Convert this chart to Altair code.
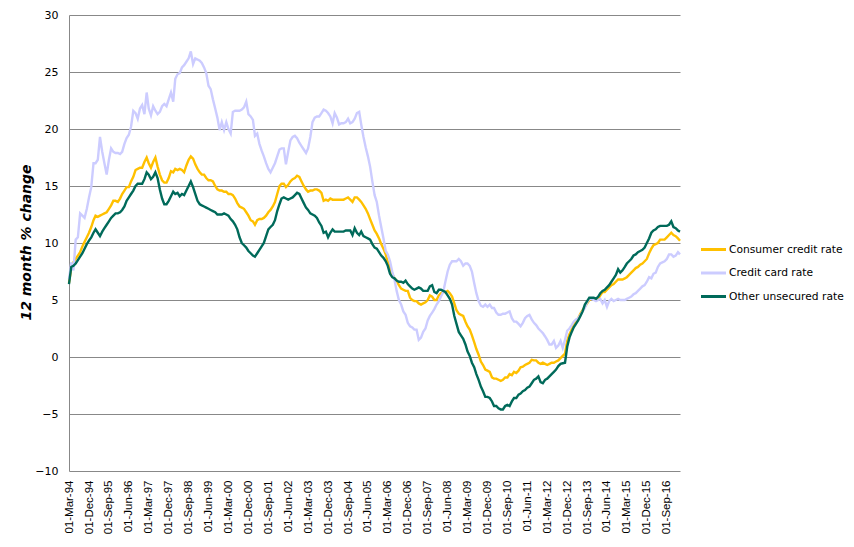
import altair as alt
import pandas as pd

# ---- data (monthly, Mar-1994 .. Mar-2017) ----
consumer_credit = [
    6.5, 7.8, 8.3, 8.6, 8.9, 9.2, 9.7, 10.1, 10.5, 10.9,
    11.4, 12.0, 12.4, 12.3, 12.4, 12.5, 12.6, 12.7, 13.0, 13.3,
    13.7, 13.7, 13.6, 13.9, 14.3, 14.6, 14.9, 14.9, 15.4, 15.8,
    16.4, 16.5, 16.6, 16.6, 17.1, 17.5, 17.0, 16.6, 17.1, 17.5,
    16.7, 16.0, 15.5, 15.3, 15.3, 15.7, 16.3, 16.2, 16.5, 16.4,
    16.5, 16.4, 16.2, 16.8, 17.3, 17.6, 17.4, 16.9, 16.5, 16.2,
    16.0, 16.0, 15.7, 15.5, 15.5, 15.4, 15.0, 14.7, 14.6, 14.6,
    14.5, 14.5, 14.3, 14.3, 14.2, 13.9, 13.5, 13.2, 13.1, 13.0,
    12.7, 12.4, 12.0, 11.9, 11.6, 12.0, 12.1, 12.1, 12.2, 12.4,
    12.7, 12.9, 13.2, 13.6, 14.3, 15.0, 15.2, 15.2, 14.9, 15.1,
    15.4, 15.6, 15.7, 15.9, 15.8, 15.4, 15.0, 14.7, 14.5, 14.6,
    14.6, 14.7, 14.7, 14.6, 14.4, 13.7, 13.8, 13.7, 13.9, 13.8,
    13.8, 13.8, 13.8, 13.8, 13.8, 13.9, 14.0, 13.8, 13.6, 14.0,
    14.0, 13.8, 13.6, 13.3, 13.0, 12.6, 12.1, 11.6, 11.1, 10.8,
    10.4, 9.9, 9.5, 9.0, 8.3, 7.8, 7.3, 6.9, 6.7, 6.3,
    6.0, 5.9, 5.8, 5.8, 5.2, 5.0, 4.9, 4.9, 4.7, 4.6,
    4.7, 4.8, 5.0, 5.4, 5.3, 5.0, 5.0, 5.4, 5.6, 5.7,
    5.7, 5.8, 5.6, 5.3, 4.7, 4.1, 3.8, 3.7, 3.6, 3.1,
    2.7, 2.4, 1.9, 1.3, 0.7, 0.2, -0.4, -0.7, -1.1, -1.2,
    -1.3, -1.8, -1.9, -1.9, -2.0, -2.1, -2.0, -1.8, -1.8, -1.5,
    -1.6, -1.3, -1.4, -1.2, -0.9, -0.85, -0.7, -0.6, -0.5, -0.25,
    -0.3, -0.3, -0.5, -0.6, -0.5, -0.6, -0.7, -0.6, -0.5, -0.5,
    -0.4, -0.3, -0.1, 0.1, 0.3, 1.4, 2.0, 2.4, 2.8, 3.1,
    3.4, 3.8, 4.1, 4.4, 4.7, 5.0, 5.1, 5.1, 5.0, 5.1,
    5.4, 5.7, 5.7, 5.9, 6.1, 6.3, 6.4, 6.6, 6.8, 6.8,
    6.8, 6.9, 7.0, 7.2, 7.4, 7.6, 7.8, 7.9, 8.1, 8.2,
    8.4, 8.6, 9.1, 9.5, 9.8, 9.9, 10.0, 10.3, 10.3, 10.3,
    10.5, 10.7, 10.9, 10.7, 10.6, 10.4, 10.2,
]

credit_card = [
    6.8, 8.3, 7.6, 10.3, 10.5, 12.6, 12.4, 12.2, 13.0, 14.0,
    14.9, 17.0, 17.0, 17.3, 19.3, 18.0, 17.0, 16.0, 17.3, 18.3,
    18.0, 17.9, 17.9, 17.8, 18.0, 18.7, 19.2, 19.5, 20.2, 21.6,
    21.4, 20.9, 21.8, 22.1, 21.3, 23.2, 21.8, 21.2, 22.0, 21.6,
    21.3, 21.5, 22.0, 22.2, 22.0, 22.6, 23.2, 22.4, 24.4, 24.8,
    24.9, 25.4, 25.6, 25.9, 26.2, 26.8, 25.7, 26.2, 26.1, 26.0,
    25.8, 25.4, 24.9, 23.8, 23.5, 22.6, 21.8, 21.0, 19.9, 20.6,
    19.9, 20.6, 20.0, 19.6, 21.5, 21.6, 21.6, 21.6, 21.7, 21.9,
    22.4, 21.3, 21.1, 20.8, 19.4, 19.6, 18.7, 18.1, 17.6, 17.0,
    16.5, 16.2, 16.6, 17.0, 17.6, 18.2, 18.3, 18.3, 16.9, 18.0,
    19.0, 19.3, 19.4, 19.2, 18.8, 18.5, 18.2, 17.9, 18.3, 19.3,
    20.6, 21.0, 21.1, 21.1, 21.4, 21.7, 21.6, 21.4, 21.1, 20.5,
    21.4, 21.0, 20.4, 20.5, 20.5, 20.6, 20.9, 20.5, 20.6, 20.9,
    21.4, 21.5, 20.4, 19.3, 18.4, 17.6, 16.7, 15.4, 14.2, 13.6,
    12.4, 11.4, 10.4, 9.3, 9.0, 8.4, 7.5, 6.8, 5.8, 5.0,
    4.6, 4.0, 3.7, 3.0, 2.7, 2.6, 2.4, 2.4, 1.5, 1.7,
    2.2, 2.5, 3.2, 3.6, 3.9, 4.2, 4.6, 4.9, 5.3, 5.7,
    6.6, 7.5, 8.1, 8.4, 8.4, 8.4, 8.6, 8.4, 8.0, 8.2,
    8.2, 8.0, 7.5, 6.5, 5.6, 4.9, 4.5, 4.4, 4.6, 4.4,
    4.6, 4.3, 4.3, 3.9, 3.7, 3.7, 3.8, 3.8, 3.9, 4.0,
    3.4, 3.1, 3.1, 2.9, 2.7, 3.0, 3.4, 3.6, 3.7, 3.3,
    3.0, 2.8, 2.5, 2.3, 2.1, 1.8, 1.5, 1.1, 1.1, 1.4,
    0.8, 1.0, 1.4, 0.8, 1.5, 2.3, 2.5, 2.8, 3.1, 3.3,
    3.4, 3.7, 4.0, 4.3, 4.8, 5.1, 5.1, 5.0, 4.9, 5.0,
    5.1, 4.7, 5.0, 4.4, 4.9, 5.1, 4.9, 5.0, 5.1, 5.0,
    5.0, 5.0, 5.1, 5.2, 5.3, 5.5, 5.6, 5.8, 6.0, 6.2,
    6.3, 6.6, 7.0, 6.9, 7.3, 7.4, 7.9, 8.2, 8.3, 8.4,
    8.6, 9.0, 9.0, 8.8, 8.9, 9.2, 9.0,
]

other_unsecured = [
    6.4, 7.9, 8.0, 8.2, 8.5, 8.8, 9.1, 9.5, 9.9, 10.2,
    10.5, 10.9, 11.2, 10.9, 10.6, 11.0, 11.3, 11.6, 11.9, 12.2,
    12.4, 12.6, 12.6, 12.7, 12.9, 13.2, 13.7, 14.0, 14.3, 14.6,
    15.0, 15.2, 15.2, 15.2, 15.6, 16.2, 16.0, 15.6, 15.8, 16.2,
    15.7, 14.7, 13.9, 13.4, 13.4, 13.7, 14.1, 14.5, 14.3, 14.4,
    14.1, 14.3, 14.2, 14.6, 15.0, 15.4, 14.9, 14.3, 13.7, 13.4,
    13.3, 13.2, 13.1, 13.0, 12.9, 12.8, 12.7, 12.5, 12.5, 12.5,
    12.6, 12.5, 12.4, 12.1, 11.9, 11.6, 11.2, 10.5, 10.0, 9.8,
    9.6, 9.3, 9.1, 8.9, 8.8, 9.1, 9.4, 9.7, 10.0, 10.6,
    11.2, 11.4, 11.6, 12.0, 12.8, 13.4, 13.9, 14.0, 13.9, 13.8,
    13.9, 14.0, 14.2, 14.4, 14.3, 13.9, 13.5, 13.1, 12.9, 12.6,
    12.5, 12.4, 12.2, 11.8, 11.5, 10.9, 11.0, 10.5, 10.9, 11.2,
    11.0, 11.0, 11.0, 11.0, 11.0, 11.1, 11.1, 11.1, 10.7, 11.3,
    10.9, 10.7, 11.0, 10.6, 10.5, 10.4, 10.3, 9.9, 9.6, 9.5,
    9.2, 8.9, 8.7, 8.4, 8.0, 7.3, 7.0, 6.9, 6.7, 6.6,
    6.6, 6.5, 6.7, 6.4, 6.2, 6.0, 5.9, 6.0, 6.1, 6.0,
    5.8, 5.8, 5.8, 6.2, 6.3, 5.7, 5.6, 5.9, 5.9, 5.8,
    5.7, 5.4, 5.1, 4.6, 3.6, 2.9, 2.2, 1.9, 1.6, 1.1,
    0.5, 0.1, -0.5, -0.9, -1.5, -2.0, -2.6, -3.0, -3.5, -3.5,
    -3.6, -3.9, -4.3, -4.3, -4.5, -4.6, -4.6, -4.3, -4.2, -4.3,
    -3.9, -3.6, -3.6, -3.3, -3.2, -3.0, -2.9, -2.7, -2.6, -2.3,
    -2.0, -1.9, -1.7, -2.2, -2.3, -2.0, -1.9, -1.7, -1.5, -1.3,
    -1.1, -0.8, -0.6, -0.55, -0.5, 0.9, 1.7, 2.2, 2.6, 2.9,
    3.2, 3.6, 4.0, 4.6, 4.9, 5.2, 5.2, 5.2, 5.1, 5.3,
    5.6, 5.8, 5.9, 6.1, 6.3, 6.6, 6.9, 7.2, 7.7, 7.4,
    7.6, 7.9, 8.2, 8.4, 8.6, 8.9, 9.0, 9.2, 9.3, 9.4,
    9.6, 10.0, 10.4, 10.9, 11.1, 11.2, 11.4, 11.5, 11.5, 11.5,
    11.5, 11.6, 11.9, 11.4, 11.3, 11.1, 11.0,
]

series_names = ["Consumer credit rate", "Credit card rate", "Other unsecured rate"]
series_colors = ["#FFC000", "#CCCCFF", "#006A5A"]

tick_dates = [
    "1994-03-01", "1994-12-01", "1995-09-01", "1996-06-01", "1997-03-01",
    "1997-12-01", "1998-09-01", "1999-06-01", "2000-03-01", "2000-12-01",
    "2001-09-01", "2002-06-01", "2003-03-01", "2003-12-01", "2004-09-01",
    "2005-06-01", "2006-03-01", "2006-12-01", "2007-09-01", "2008-06-01",
    "2009-03-01", "2009-12-01", "2010-09-01", "2011-06-01", "2012-03-01",
    "2012-12-01", "2013-09-01", "2014-06-01", "2015-03-01", "2015-12-01",
    "2016-09-01",
]
y_ticks = [-10, -5, 0, 5, 10, 15, 20, 25, 30]

# ---- build table ----
dates = pd.date_range("1994-03-01", periods=len(consumer_credit), freq="MS").strftime("%Y-%m-%d")
frames = []
for name, vals in zip(series_names, [consumer_credit, credit_card, other_unsecured]):
    frames.append(pd.DataFrame({"date": dates[: len(vals)], "value": vals, "series": name}))
df = pd.concat(frames, ignore_index=True)


def dt(s):
    y, m, d = (int(p) for p in s.split("-"))
    return alt.DateTime(year=y, month=m, date=d, utc=True)


chart = (
    alt.Chart(df)
    .mark_line(strokeWidth=2.4)
    .encode(
        x=alt.X(
            "date:T",
            scale=alt.Scale(type="utc", domain=[dt("1994-03-01"), dt("2017-03-01")]),
            axis=alt.Axis(
                values=[dt(s) for s in tick_dates],
                labelExpr="utcFormat(datum.value, '%d-%b-%y')",
                labelAngle=270,
                labelAlign="right",
                labelBaseline="middle",
                labelFlush=False,
                labelOverlap=False,
                ticks=False,
                tickSize=0,
                grid=False,
                domain=False,
                labelPadding=9,
                labelFont="Liberation Sans",
                labelFontSize=11.5,
                labelColor="#000000",
                title=None,
            ),
        ),
        y=alt.Y(
            "value:Q",
            scale=alt.Scale(domain=[-10, 30], nice=False, zero=False),
            axis=alt.Axis(
                values=y_ticks,
                ticks=False,
                tickSize=0,
                grid=True,
                gridColor="#888888",
                gridWidth=1,
                domain=True,
                domainColor="#888888",
                domainWidth=1,
                labelPadding=11,
                labelFont="DejaVu Sans",
                labelFontSize=11,
                labelColor="#000000",
                title="12 month % change",
                titleFont="DejaVu Sans",
                titleFontSize=14,
                titleFontWeight="bold",
                titleFontStyle="italic",
                titleColor="#000000",
                titleAngle=270,
                titleX=-39,
                titleY=227,
                titleAlign="center",
                titleBaseline="alphabetic",
            ),
        ),
        color=alt.Color(
            "series:N",
            scale=alt.Scale(domain=series_names, range=series_colors),
            legend=alt.Legend(
                title=None,
                orient="none",
                legendX=633,
                legendY=223,
                symbolType="M-1.25,0L1.25,0",
                symbolSize=400,
                symbolStrokeWidth=3,
                labelFont="DejaVu Sans",
                labelFontSize=10.7,
                labelColor="#000000",
                labelOffset=4,
                rowPadding=5.5,
                padding=0,
            ),
        ),
    )
    .properties(
        width=611,
        height=456,
        autosize=alt.AutoSizeParams(type="none"),
        padding={"left": 61, "top": 7, "right": 166, "bottom": 68},
        background="#ffffff",
    )
    .configure_view(strokeWidth=0)
)

chart.save("out.html", embed_options={"renderer": "svg", "actions": False})
